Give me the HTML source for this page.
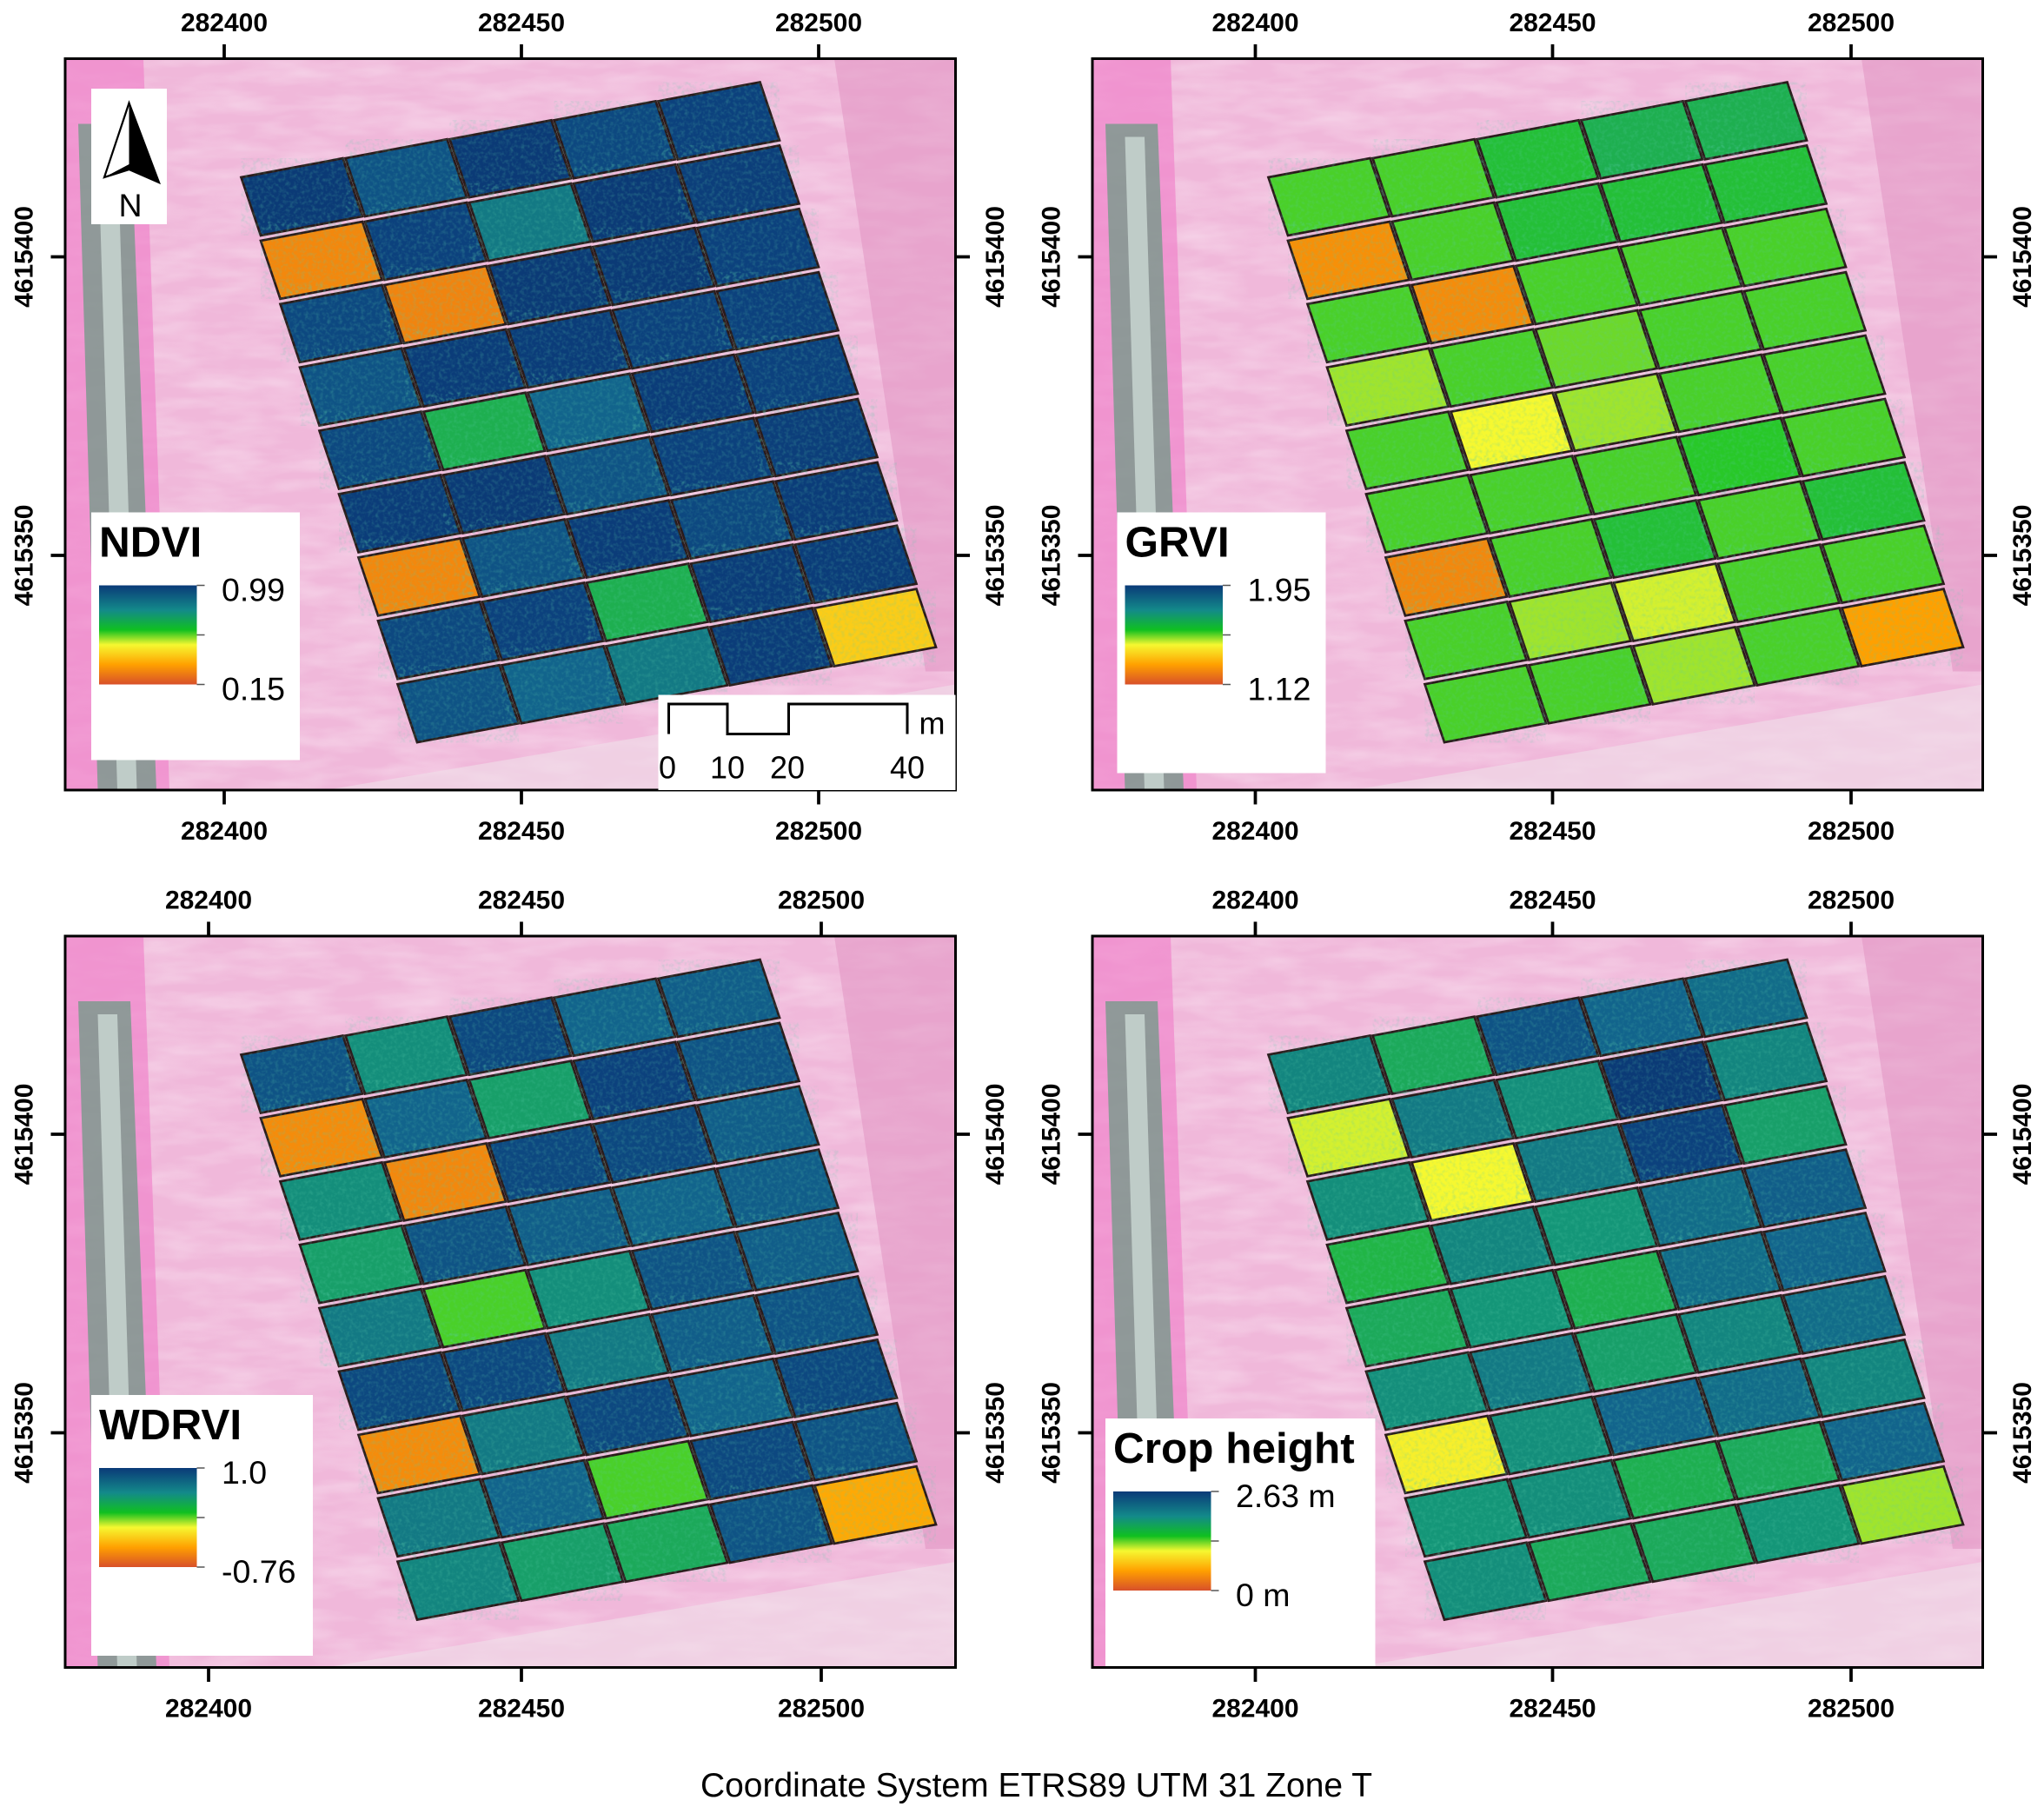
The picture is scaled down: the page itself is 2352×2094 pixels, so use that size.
<!DOCTYPE html>
<html><head><meta charset="utf-8">
<style>
html,body{margin:0;padding:0;background:#fff;}
svg{display:block;}
text{font-family:"Liberation Sans",Arial,sans-serif;}
</style></head>
<body>
<svg id="fig" width="2352" height="2094" viewBox="0 0 1568 1396" xmlns="http://www.w3.org/2000/svg">
<defs>
<filter id="speck" x="0" y="0" width="100%" height="100%">
<feTurbulence type="fractalNoise" baseFrequency="0.35" numOctaves="2" seed="3"/>
<feColorMatrix type="matrix" values="0 0 0 0 0.1  0 0 0 0 0.6  0 0 0 0 0.4  0 0 0 1.4 -0.6"/>
</filter>
<filter id="field" x="0" y="0" width="100%" height="100%">
<feTurbulence type="fractalNoise" baseFrequency="0.02 0.08" numOctaves="3" seed="7"/>
<feColorMatrix type="matrix" values="0 0 0 0 1  0 0 0 0 1  0 0 0 0 1  0 0 0 0.9 -0.3"/>
</filter>
<linearGradient id="cbar" x1="0" y1="0" x2="0" y2="1">
<stop offset="0" stop-color="#0a3a78"/>
<stop offset="0.25" stop-color="#138a8a"/>
<stop offset="0.45" stop-color="#10c020"/>
<stop offset="0.6" stop-color="#f6f830"/>
<stop offset="0.8" stop-color="#ffa000"/>
<stop offset="1" stop-color="#d8502a"/>
</linearGradient>
</defs>
<text x="795" y="1378" text-anchor="middle" font-size="26">Coordinate System ETRS89 UTM 31 Zone T</text>
</svg>
<script>
// Cell mean values (fraction of colour scale, 0=low/orange, 1=high/blue), 9 rows x 5 cols
const ndviValues = [
 [0.95,0.85,0.95,0.88,0.9],
 [0.14,0.9,0.75,0.95,0.92],
 [0.88,0.13,0.95,0.95,0.9],
 [0.85,0.93,0.93,0.9,0.9],
 [0.88,0.6,0.8,0.93,0.9],
 [0.93,0.95,0.85,0.9,0.92],
 [0.14,0.85,0.93,0.88,0.93],
 [0.88,0.9,0.6,0.93,0.93],
 [0.85,0.8,0.75,0.93,0.3]
];
const grviValues = [
 [0.5,0.5,0.55,0.6,0.6],
 [0.16,0.5,0.55,0.55,0.55],
 [0.5,0.15,0.5,0.5,0.5],
 [0.45,0.5,0.48,0.5,0.5],
 [0.5,0.4,0.45,0.5,0.5],
 [0.5,0.5,0.5,0.52,0.5],
 [0.14,0.5,0.55,0.5,0.55],
 [0.5,0.45,0.42,0.5,0.5],
 [0.5,0.5,0.45,0.5,0.2]
];
const wdrviValues = [
 [0.85,0.7,0.88,0.8,0.82],
 [0.15,0.8,0.65,0.9,0.85],
 [0.7,0.14,0.88,0.88,0.82],
 [0.65,0.85,0.82,0.8,0.82],
 [0.75,0.5,0.7,0.85,0.82],
 [0.88,0.88,0.75,0.82,0.85],
 [0.15,0.75,0.88,0.8,0.88],
 [0.75,0.8,0.5,0.88,0.85],
 [0.72,0.65,0.62,0.85,0.22]
];
const heightValues = [
 [0.72,0.62,0.85,0.8,0.78],
 [0.42,0.75,0.7,0.95,0.72],
 [0.7,0.4,0.75,0.9,0.65],
 [0.58,0.72,0.68,0.78,0.82],
 [0.62,0.68,0.6,0.78,0.8],
 [0.7,0.75,0.65,0.72,0.78],
 [0.38,0.7,0.8,0.78,0.72],
 [0.68,0.7,0.6,0.62,0.8],
 [0.7,0.62,0.62,0.68,0.45]
];
const xTickLabels = ["282400","282450","282500"];
const yTickLabels = ["4615400","4615350"];

const NS="http://www.w3.org/2000/svg";
const svg=document.getElementById('fig');
function el(tag,attrs,parent){const e=document.createElementNS(NS,tag);for(const k in attrs)e.setAttribute(k,attrs[k]);(parent||svg).appendChild(e);return e;}
const stops=[[0,[216,80,42]],[0.2,[255,160,0]],[0.4,[246,248,48]],[0.52,[40,200,40]],[0.68,[20,150,120]],[0.8,[18,100,140]],[0.9,[12,65,125]],[1,[10,50,110]]];
function cmap(v){v=Math.max(0,Math.min(1,v));for(let i=1;i<stops.length;i++){if(v<=stops[i][0]){const a=stops[i-1],b=stops[i];const t=(v-a[0])/(b[0]-a[0]);const c=a[1].map((x,j)=>Math.round(x+(b[1][j]-x)*t));return `rgb(${c[0]},${c[1]},${c[2]})`;}}return 'rgb(10,50,110)';}

const panels=[
 {name:'ndvi',x:50,y:45,data:ndviValues,title:'NDVI',hi:'0.99',lo:'0.15',box:[70,393,160,190],ticksX:[172,400,628]},
 {name:'grvi',x:838,y:45,data:grviValues,title:'GRVI',hi:'1.95',lo:'1.12',box:[857,393,160,200],ticksX:[963,1191,1420]},
 {name:'wdrvi',x:50,y:718,data:wdrviValues,title:'WDRVI',hi:'1.0',lo:'-0.76',box:[70,1070,170,200],ticksX:[160,400,630]},
 {name:'crop-height',x:838,y:718,data:heightValues,title:'Crop height',hi:'2.63 m',lo:'0 m',box:[848,1088,207,190],ticksX:[963,1191,1420]}
];
const W=683,H=561;
const u=[80,-14.6], v=[15,48.6];
panels.forEach((p,pi)=>{
 const g=el('g',{});
 
 
 const cp=el('clipPath',{id:'cp'+pi},svg.querySelector('defs'));
 el('rect',{x:p.x,y:p.y,width:W,height:H},cp);
 const bg=el('g',{'clip-path':`url(#cp${pi})`},g);
 
 
 el('rect',{x:p.x,y:p.y,width:W,height:H,fill:'#f0b8da'},bg);
 el('rect',{x:p.x,y:p.y,width:W,height:H,fill:'#fff',filter:'url(#field)',opacity:0.6},bg);
 el('polygon',{points:`${p.x},${p.y} ${p.x+60},${p.y} ${p.x+80},${p.y+H} ${p.x},${p.y+H}`,fill:'#f07cc8',opacity:0.6},bg);
 el('polygon',{points:`${p.x+10},${p.y+50} ${p.x+50},${p.y+50} ${p.x+70},${p.y+H} ${p.x+25},${p.y+H}`,fill:'#6f9a86',opacity:0.75},bg);
 el('polygon',{points:`${p.x+25},${p.y+60} ${p.x+40},${p.y+60} ${p.x+55},${p.y+H} ${p.x+40},${p.y+H}`,fill:'#dfeee8',opacity:0.6},bg);
 el('polygon',{points:`${p.x+590},${p.y} ${p.x+W},${p.y} ${p.x+W},${p.y+470} ${p.x+660},${p.y+470}`,fill:'#e090c0',opacity:0.5},bg);
 el('polygon',{points:`${p.x+200},${p.y+H} ${p.x+W},${p.y+480} ${p.x+W},${p.y+H}`,fill:'#f0e0ea',opacity:0.6},bg);
 const ox=p.x+134, oy=p.y+89;
 for(let r=0;r<9;r++)for(let c=0;c<5;c++){
  const x0=ox+c*u[0]+r*v[0], y0=oy+c*u[1]+r*v[1];
  const pts=[[x0+1,y0+2],[x0+u[0]-1,y0+u[1]+2],[x0+u[0]+v[0]-1,y0+u[1]+v[1]-2],[x0+v[0]+1,y0+v[1]-2]];
  const ptsS=pts.map(q=>q.join(',')).join(' ');
  const cell=el('polygon',{points:ptsS,fill:cmap(p.data[r][c]),stroke:'#2a1a1a','stroke-width':1.8},bg);
  
  
  el('polygon',{points:ptsS,fill:'#000',filter:'url(#speck)',opacity:0.4},bg);
 }
 el('rect',{x:p.x,y:p.y,width:W,height:H,fill:'none',stroke:'#000','stroke-width':2},g);
 p.ticksX.forEach((tx,i)=>{
  el('line',{x1:tx,y1:p.y-11,x2:tx,y2:p.y,stroke:'#000','stroke-width':2.5},g);
  el('line',{x1:tx,y1:p.y+H,x2:tx,y2:p.y+H+11,stroke:'#000','stroke-width':2.5},g);
  const t1=el('text',{x:tx,y:p.y-21,'text-anchor':'middle','font-size':20,'font-weight':'bold'},g);t1.textContent=xTickLabels[i];
  
  
  const t2=el('text',{x:tx,y:p.y+H+38,'text-anchor':'middle','font-size':20,'font-weight':'bold'},g);t2.textContent=xTickLabels[i];
  
  
 });
 [152,381].forEach((dy,i)=>{
  const ty=p.y+dy;
  el('line',{x1:p.x-11,y1:ty,x2:p.x,y2:ty,stroke:'#000','stroke-width':2.5},g);
  el('line',{x1:p.x+W,y1:ty,x2:p.x+W+11,y2:ty,stroke:'#000','stroke-width':2.5},g);
  const a=el('text',{x:0,y:0,transform:`translate(${p.x-25},${ty}) rotate(-90)`,'text-anchor':'middle','font-size':20,'font-weight':'bold'},g);a.textContent=yTickLabels[i];
  
  
  const b=el('text',{x:0,y:0,transform:`translate(${p.x+W+37},${ty}) rotate(-90)`,'text-anchor':'middle','font-size':20,'font-weight':'bold'},g);b.textContent=yTickLabels[i];
  
  
 });
 const lg=el('g',{},g);
 
 
 const [bx,by,bw,bh]=p.box;
 el('rect',{x:bx,y:by,width:bw,height:bh,fill:'#fff'},lg);
 const tt=el('text',{x:bx+6,y:by+34,'font-size':33,'font-weight':'bold'},lg);tt.textContent=p.title;
 const cbx=bx+6, cby=by+56;
 el('rect',{x:cbx,y:cby,width:75,height:76,fill:'url(#cbar)'},lg);
 [0,38,76].forEach(d=>el('line',{x1:cbx+75,y1:cby+d,x2:cbx+81,y2:cby+d,stroke:'#555','stroke-width':1},lg));
 const h1=el('text',{x:cbx+94,y:cby+12,'font-size':25},lg);h1.textContent=p.hi;
 const h2=el('text',{x:cbx+94,y:cby+88,'font-size':25},lg);h2.textContent=p.lo;
});
const na=el('g',{});


el('rect',{x:70,y:68,width:58,height:104,fill:'#fff'},na);
el('polygon',{points:'99,79 80,136 99,130 122,140',fill:'#fff',stroke:'#000','stroke-width':1.5},na);
el('polygon',{points:'99,79 99,130 122,140',fill:'#000'},na);
el('polygon',{points:'80,136 99,130 99,126',fill:'#000'},na);
const nt=el('text',{x:100,y:166,'text-anchor':'middle','font-size':25},na);nt.textContent='N';
const sb=el('g',{});


el('rect',{x:505,y:533,width:228,height:73,fill:'#fff'},sb);
el('polyline',{points:'513,563 513,540 558,540 558,563 605,563 605,540 696,540 696,563',fill:'none',stroke:'#000','stroke-width':2},sb);
[["0",512],["10",558],["20",604],["40",696]].forEach(([s,x])=>{const t=el('text',{x:x,y:597,'text-anchor':'middle','font-size':24},sb);t.textContent=s;});
const mt=el('text',{x:715,y:563,'text-anchor':'middle','font-size':24},sb);mt.textContent='m';
</script>
</body></html>
